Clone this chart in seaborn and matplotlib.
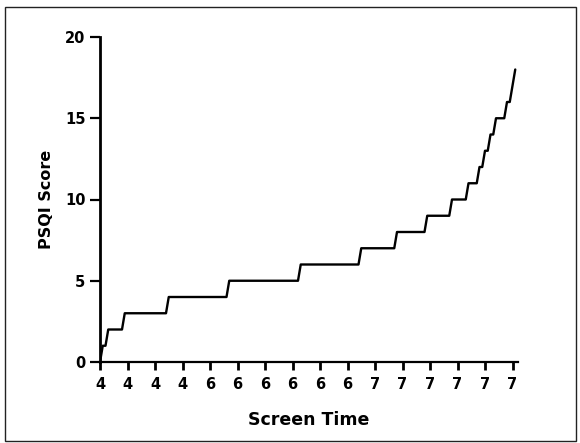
import numpy as np
import pandas as pd
import matplotlib
matplotlib.use("Agg")
import matplotlib.pyplot as plt
import seaborn as sns

# PSQI score levels and how many respondents sit at each level (sorted by score)
psqi_levels = [0, 1, 2, 3, 4, 5, 6, 7, 8, 9, 10, 11, 12, 13, 14, 15, 16, 17, 18]
level_counts = [1, 2, 6, 16, 22, 26, 22, 13, 11, 9, 6, 4, 2, 2, 2, 4, 2, 1, 1]

# screen time shown under every 10th respondent
tick_step = 10
screen_time_labels = ["4", "4", "4", "4", "6", "6", "6", "6",
                      "6", "6", "7", "7", "7", "7", "7", "7"]

scores = np.repeat(psqi_levels, level_counts)
df = pd.DataFrame({"rank": np.arange(len(scores)), "psqi": scores})

sns.set_style("ticks")
plt.rcParams["font.family"] = ["DejaVu Sans"]
plt.rcParams["text.color"] = "black"
plt.rcParams["axes.labelcolor"] = "black"

fig = plt.figure(figsize=(5.8, 4.43), dpi=100)
ax = fig.add_axes([100 / 580, 1 - 362 / 443, 418 / 580, 325 / 443])

sns.lineplot(data=df, x="rank", y="psqi", color="black", linewidth=1.7, ax=ax)

ax.set_xlim(0, len(scores))
ax.set_ylim(0, 20)
ax.set_yticks([0, 5, 10, 15, 20])
ax.set_xticks(np.arange(len(screen_time_labels)) * tick_step)
ax.set_xticklabels(screen_time_labels)

for side in ["top", "right"]:
    ax.spines[side].set_visible(False)
ax.spines["left"].set_linewidth(2.0)
ax.spines["bottom"].set_linewidth(1.6)
for side in ["left", "bottom"]:
    ax.spines[side].set_color("black")

ax.tick_params(axis="x", direction="out", length=5.5, width=2.0,
               colors="black", labelsize=10.5, pad=5)
ax.tick_params(axis="y", direction="out", length=7.5, width=1.6,
               colors="black", labelsize=10.5, pad=3)
for lbl in ax.get_xticklabels() + ax.get_yticklabels():
    lbl.set_fontweight("bold")

ax.set_xlabel("Screen Time", fontsize=12.5, fontweight="bold", labelpad=14)
ax.set_ylabel("PSQI Score", fontsize=11.5, fontweight="bold", labelpad=8)

# thin frame round the whole picture
frame = plt.Rectangle((4.5 / 580, 2 / 443), 571 / 580, 434 / 443,
                      transform=fig.transFigure, fill=False,
                      edgecolor="#222222", linewidth=1.0)
fig.patches.append(frame)

fig.savefig("out.png", dpi=100)
